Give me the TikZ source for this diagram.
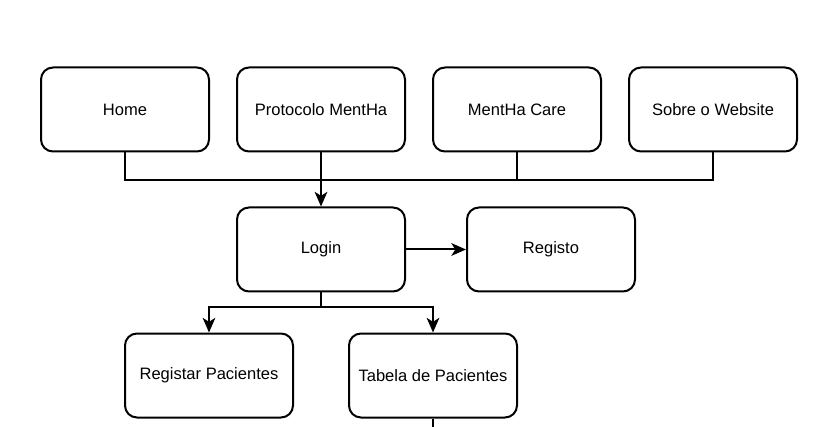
\documentclass[tikz,border=0pt]{standalone}
\usepackage{fontspec}
\setmainfont{Liberation Sans}
\usetikzlibrary{calc}
\usetikzlibrary{positioning}
\usetikzlibrary{arrows.meta}

\begin{document}
\begin{tikzpicture}[x=0.75pt,y=-0.75pt,
    page/.style={draw,line width=1.5pt,rounded corners=9pt,minimum width=126pt,minimum height=63pt,font=\fontsize{12.4}{15}\selectfont},
    link/.style={line width=1.5pt},
    arr/.style={line width=1.5pt,-{Stealth[length=11pt,width=9.5pt,inset=3pt]}}]
    \useasboundingbox (0,0) rectangle (834,427);
    \node[page] (home) at (125,109.5) {Home};
    \node[page] (protocolo) at (321,109.5) {Protocolo MentHa};
    \node[page] (care) at (517,109.5) {MentHa Care};
    \node[page] (sobre) at (713,109.5) {Sobre o Website};
    \node[page] (login) at (321,249.5) {Login};
    \node[page] (registo) at (551,249.5) {Registo};
    \node[page] (registar) at (209,375.5) {Registar Pacientes};
    \node[page] (tabela) at (433,375.5) {Tabela de Pacientes};
    \coordinate (fim) at (433,427);
    % menu de topo
    \draw[link] (home.south) -- ++(0,28) -| (sobre.south);
    \draw[link] (care.south) -- ++(0,28);
    \draw[arr] (protocolo.south) -- (login.north);
    \draw[arr] (login.east) -- (registo.west);
    % area de pacientes
    \draw[arr] (login.south) -- ++(0,14) -| (registar.north);
    \draw[arr] (login.south) -- ++(0,14) -| (tabela.north);
    \draw[link] (tabela.south) -- (fim);
\end{tikzpicture}
\end{document}
